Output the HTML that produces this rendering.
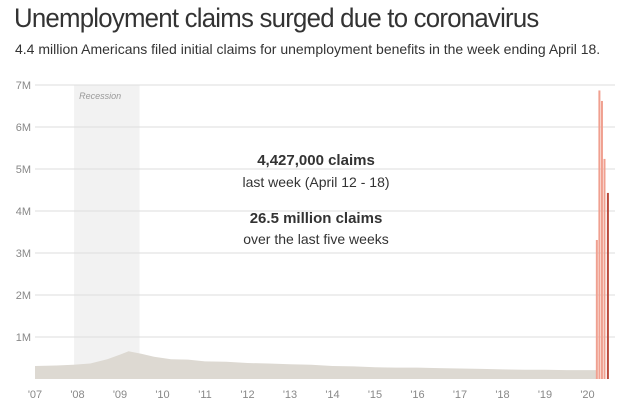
<!DOCTYPE html>
<html><head><meta charset="utf-8"><style>
body{margin:0;background:#fff;width:642px;height:407px;overflow:hidden;font-family:"Liberation Sans",sans-serif;}
#title{position:absolute;left:14px;top:3px;font-size:27px;color:#333;letter-spacing:-0.8px;white-space:nowrap;transform:scaleX(0.955);transform-origin:left;}
#sub{position:absolute;left:15px;top:41px;font-size:14px;color:#333;white-space:nowrap;}
</style></head><body>
<div id="title">Unemployment claims surged due to coronavirus</div>
<div id="sub">4.4 million Americans filed initial claims for unemployment benefits in the week ending April 18.</div>
<svg id="chart" width="642" height="407" style="position:absolute;left:0;top:0"></svg>
<script>
const yTicks=[1,2,3,4,5,6,7];
const yearLabels=["'07","'08","'09","'10","'11","'12","'13","'14","'15","'16","'17","'18","'19","'20"];
const areaYears=[2007,2007.5,2007.9,2008.3,2008.7,2009.0,2009.2,2009.5,2009.8,2010.2,2010.6,2011,2011.5,2012,2012.5,2013,2013.5,2014,2014.5,2015,2015.5,2016,2016.5,2017,2017.5,2018,2018.5,2019,2019.5,2020.0,2020.2];
const areaValues=[0.31,0.32,0.34,0.37,0.47,0.58,0.66,0.6,0.53,0.47,0.46,0.42,0.41,0.38,0.37,0.35,0.34,0.31,0.3,0.28,0.27,0.27,0.26,0.25,0.24,0.23,0.22,0.22,0.21,0.21,0.21];
const spikeYears=[2020.22,2020.28,2020.34,2020.40,2020.48];
const spikeValues=[3.31,6.87,6.62,5.24,4.43];
const recession=[2007.92,2009.46];
const svg=document.getElementById('chart');
const NS='http://www.w3.org/2000/svg';
const x0=35,xPer=42.5,y0=379,yPer=42;
const X=y=>x0+(y-2007)*xPer, Y=v=>y0-v*yPer;
function mk(t,a){const e=document.createElementNS(NS,t);for(const k in a)e.setAttribute(k,a[k]);svg.appendChild(e);return e;}
let r=mk('rect',{x:X(recession[0]),y:Y(7),width:X(recession[1])-X(recession[0]),height:y0-Y(7),fill:'#f2f2f2'});


let rt=mk('text',{x:X(recession[0])+5,y:Y(7)+14,'font-size':9,'font-style':'italic',fill:'#999'});rt.textContent='Recession';


yTicks.forEach(v=>{
 let l=mk('line',{x1:x0,x2:615,y1:Y(v),y2:Y(v),stroke:'#ddd','stroke-width':1});
 
 
 let t=mk('text',{x:31,y:Y(v)+4,'font-size':11,fill:'#888','text-anchor':'end'});t.textContent=v+'M';
 
 
});
let d='M'+X(areaYears[0])+','+y0;
areaYears.forEach((yr,i)=>{d+=' L'+X(yr)+','+Y(areaValues[i]);});
d+=' L'+X(areaYears[areaYears.length-1])+','+y0+'Z';
let a=mk('path',{d:d,fill:'#ddd9d2'});


spikeYears.forEach((yr,i)=>{
 let b=mk('rect',{x:X(yr)-1,y:Y(spikeValues[i]),width:2,height:spikeValues[i]*yPer,fill:i==spikeYears.length-1?'#b8483a':'#f0a090'});
 
 
});
yearLabels.forEach((s,i)=>{
 let t=mk('text',{x:X(2007+i),y:398,'font-size':11,fill:'#888','text-anchor':'middle'});t.textContent=s;
 
 
});
const ann=[["4,427,000 claims",165,'bold'],["last week (April 12 - 18)",187,'normal'],["26.5 million claims",223,'bold'],["over the last five weeks",244,'normal']];
ann.forEach(z=>{
 let t=mk('text',{x:316,y:z[1],'font-size':z[2]=='bold'?15:14,'font-weight':z[2],fill:'#333','text-anchor':'middle'});t.textContent=z[0];
 
 
});
</script>
</body></html>
